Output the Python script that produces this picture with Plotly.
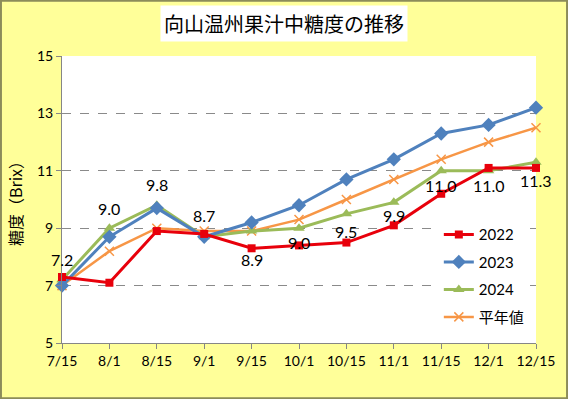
import plotly.graph_objects as go

dates = ["7/15", "8/1", "8/15", "9/1", "9/15", "10/1", "10/15", "11/1", "11/15", "12/1", "12/15"]
y2022 = [7.3, 7.1, 8.9, 8.8, 8.3, 8.4, 8.5, 9.1, 10.2, 11.1, 11.1]
y2023 = [7.0, 8.7, 9.7, 8.7, 9.2, 9.8, 10.7, 11.4, 12.3, 12.6, 13.2]
y2024 = [7.2, 9.0, 9.8, 8.7, 8.9, 9.0, 9.5, 9.9, 11.0, 11.0, 11.3]
normal = [7.0, 8.2, 9.0, 8.9, 8.9, 9.3, 10.0, 10.7, 11.4, 12.0, 12.5]
label_shift = [20, 20, 21, 21, -28, -14, -18, -13, -15, -15, -18]

fig = go.Figure()

fig.add_trace(go.Scatter(
    x=dates, y=normal, name="平年値", mode="lines+markers",
    line=dict(color="#F79646", width=2.5),
    marker=dict(symbol="x-thin", size=9, line=dict(color="#F79646", width=1.5)),
    legendrank=4, legendgroup="d", cliponaxis=False))
fig.add_trace(go.Scatter(
    x=dates, y=y2024, name="2024", mode="lines+markers",
    line=dict(color="#9BBB59", width=3),
    marker=dict(symbol="triangle-up", size=10, color="#9BBB59"),
    legendrank=3, legendgroup="c", cliponaxis=False))
fig.add_trace(go.Scatter(
    x=dates, y=y2023, name="2023", mode="lines+markers",
    line=dict(color="#4F81BD", width=3),
    marker=dict(symbol="diamond", size=11, color="#4F81BD"),
    legendrank=2, legendgroup="b", cliponaxis=False))
fig.add_trace(go.Scatter(
    x=dates, y=y2022, name="2022", mode="lines+markers",
    line=dict(color="#E8000B", width=3),
    marker=dict(symbol="square", size=8, color="#E8000B"),
    legendrank=1, legendgroup="a", cliponaxis=False))

annotations = [dict(text="向山温州果汁中糖度の推移", x=(284 - 62) / 474, y=(343 - 23) / 287,
                    xref="paper", yref="paper", yanchor="middle",
                    showarrow=False, font=dict(size=20, family="Noto Sans CJK JP"),
                    bgcolor="white", borderpad=3)]
for d, v, s in zip(dates, y2024, label_shift):
    annotations.append(dict(x=d, y=v, xref="x", yref="y", text=f"{v:.1f}",
                            showarrow=False, yshift=s,
                            font=dict(size=16, color="black", family="Lato, sans-serif")))

fig.update_layout(
    width=568, height=399,
    paper_bgcolor="#FFFF99", plot_bgcolor="white",
    margin=dict(l=62, r=32, t=56, b=56),
    font=dict(family="Lato, 'Noto Sans CJK JP', sans-serif", size=14, color="black"),
    showlegend=True,
    legend=dict(x=0.795, y=0.435, xanchor="left", yanchor="top", bgcolor="white",
                font=dict(size=15, family="Lato, 'Noto Sans CJK JP', sans-serif"),
                tracegroupgap=5, itemwidth=30),
    annotations=annotations,
)
fig.add_shape(type="rect", xref="paper", yref="paper",
              x0=-62 / 474 + 0.002, x1=(474 + 32) / 474 - 0.002,
              y0=-56 / 287 + 0.003, y1=(287 + 56) / 287 - 0.003,
              line=dict(color="#8C8C5A", width=2), layer="below")

fig.update_xaxes(type="category", range=[0, 10], showgrid=False, automargin=False,
                 showline=True, linecolor="#868686", linewidth=1,
                 ticks="outside", ticklen=5, tickcolor="#868686",
                 tickfont=dict(size=14))
fig.update_yaxes(range=[5, 15], tick0=5, dtick=2, showgrid=True, gridcolor="#8a8a8a",
                 griddash="dash", gridwidth=1, automargin=False,
                 showline=True, linecolor="#868686", linewidth=1,
                 ticks="outside", ticklen=5, tickcolor="#868686",
                 zeroline=False, tickfont=dict(size=14),
                 title=dict(text="糖度（Brix）", font=dict(size=16, family="Noto Sans CJK JP"), standoff=10))

fig.write_html("out.html", config={"displayModeBar": False},
               post_script="document.body.style.margin='0';")
